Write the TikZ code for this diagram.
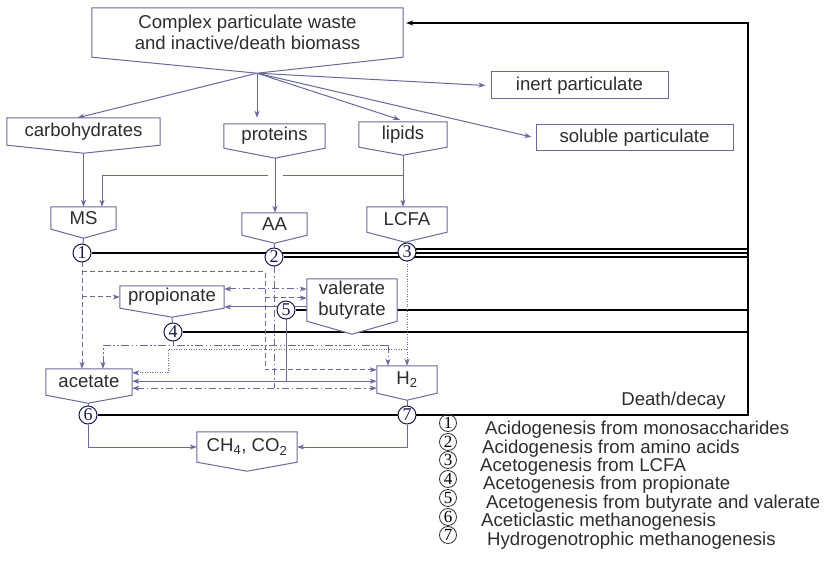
\documentclass[tikz,border=0pt]{standalone}
\usepackage{fontspec}
\setmainfont{Liberation Sans}
\newfontfamily\numfont{Liberation Serif}
\usetikzlibrary{calc,arrows.meta,positioning}
\definecolor{procblue}{RGB}{105,105,155}
\definecolor{numblue}{RGB}{25,25,75}
\definecolor{txtgray}{RGB}{45,45,45}
\pgfdeclarelayer{bg}
\pgfdeclarelayer{mid}
\pgfsetlayers{bg,mid,main}

% box outline with a pointed bottom: name, tip shift, tip depth
\newcommand\tagoutline[3]{%
  \coordinate (#1-tip) at ($(#1.south)+(#2,#3)$);
  \begin{pgfonlayer}{mid}
    \draw[outline] (#1.north west) -- (#1.north east) -- (#1.south east)
      -- (#1-tip) -- (#1.south west) -- cycle;
  \end{pgfonlayer}}

\begin{document}
\begin{tikzpicture}[x=1pt, y=-1pt,
  every node/.style={font=\fontsize{18.6}{21.5}\selectfont, text=txtgray},
  tag/.style={inner sep=0pt, align=center},
  outline/.style={draw=procblue, line width=1pt, fill=white},
  num/.style={circle, draw=numblue, line width=1pt, fill=white, minimum size=18pt,
    inner sep=0pt, font=\numfont\fontsize{18}{18}\selectfont, text=numblue},
  key/.style={circle, draw=black!80, line width=0.8pt, minimum size=17pt,
    inner sep=0pt, font=\numfont\fontsize{17}{17}\selectfont, text=black},
  onehead/.style={-{Stealth[length=7pt,width=5pt,inset=2pt]}},
  twoheads/.style={{Stealth[length=7pt,width=5pt,inset=2pt]}-{Stealth[length=7pt,width=5pt,inset=2pt]}},
  link/.style={draw=procblue, line width=1pt},
  proc/.style={link, onehead},
  decay/.style={draw=black, line width=1.3pt},
  mspath/.style={link, dash pattern=on 5pt off 3pt},
  aapath/.style={link, dash pattern=on 7pt off 3pt on 1.5pt off 3pt},
  propath/.style={link, dash pattern=on 8pt off 2.5pt on 1.5pt off 2.5pt on 1.5pt off 2.5pt},
  lcfapath/.style={link, dash pattern=on 1pt off 1.5pt}]
  \useasboundingbox (0,0) rectangle (828,580);

  % boxes
  \node[tag, minimum width=311pt, minimum height=49pt] (waste) at (247.5,32.5)
    {Complex particulate waste\\and inactive/death biomass};
  \node[tag, minimum width=153pt, minimum height=27pt] (carb) at (83.5,131.5) {carbohydrates};
  \node[tag, minimum width=101pt, minimum height=24pt] (prot) at (274.5,136) {proteins};
  \node[tag, minimum width=88pt, minimum height=25pt] (lip) at (403,134.5) {lipids};
  \node[tag, draw=procblue, line width=1pt, minimum width=177pt, minimum height=27pt] (inert) at (579.5,85.5) {inert particulate};
  \node[tag, draw=procblue, line width=1pt, minimum width=197pt, minimum height=26pt] (sol) at (634.5,138) {soluble particulate};
  \node[tag, minimum width=65pt, minimum height=22pt] (ms) at (83.5,218) {MS};
  \node[tag, minimum width=65pt, minimum height=22pt] (aa) at (274.5,224) {AA};
  \node[tag, minimum width=80pt, minimum height=25pt] (lcfa) at (407,219.5) {LCFA};
  \node[tag, minimum width=104pt, minimum height=22pt] (prop) at (172,297) {propionate};
  \node[tag, minimum width=90pt, minimum height=42pt] (val) at (352,300) {valerate\\butyrate};
  \node[tag, minimum width=86pt, minimum height=26pt] (acet) at (89,382) {acetate};
  \node[tag, minimum width=60pt, minimum height=27pt] (h2) at (407,379.5) {H\textsubscript{2}};
  \node[tag, minimum width=100pt, minimum height=30pt] (ch4) at (247,447) {CH\textsubscript{4}, CO\textsubscript{2}};

  \tagoutline{waste}{9.5}{16}
  \tagoutline{carb}{0}{8}
  \tagoutline{prot}{0.5}{10}
  \tagoutline{lip}{0}{8}
  \tagoutline{ms}{0}{9}
  \tagoutline{aa}{0}{8}
  \tagoutline{lcfa}{-2}{10}
  \tagoutline{prop}{0}{9}
  \tagoutline{val}{0}{13}
  \tagoutline{acet}{-1}{8}
  \tagoutline{h2}{0}{7}
  \tagoutline{ch4}{0}{9}

  % process circles
  \node[num] (c1) at (82,253) {1};
  \node[num] (c2) at (274,257) {2};
  \node[num] (c3) at (407,252) {3};
  \node[num] (c4) at (173,332) {4};
  \node[num] (c5) at (286,310) {5};
  \node[num] (c6) at (88,415) {6};
  \node[num] (c7) at (407,415) {7};
  \coordinate (ft) at (748,23);

  \begin{pgfonlayer}{bg}
    % death/decay back to the top box
    \draw[decay] (c1) -- (c1 -| ft);
    \draw[decay] (c2) -- (c2 -| ft);
    \draw[decay] ($(c3)+(0,-3)$) -- ($(c3 -| ft)+(0,-3)$);
    \draw[decay] (c4) -- (c4 -| ft);
    \draw[decay] (c5) -- (c5 -| ft);
    \draw[decay, -{Stealth[length=7pt,width=5pt]}] (c6) -- (c6 -| ft) -- (ft)
      -- ($(waste.east |- ft)+(3,0)$);

    % disintegration
    \draw[proc] (waste-tip) -- ($(carb.north)+(-6,0)$);
    \draw[proc] (waste-tip) -- ($(waste-tip |- prot.north)+(0,-6)$);
    \draw[proc] (waste-tip) -- ($(lip.north)+(-3,-2)$);
    \draw[proc] (waste-tip) -- ($(inert.west)+(-5,0)$);
    \draw[proc] (waste-tip) -- ($(sol.west)+(-4,-1)$);

    % hydrolysis
    \draw[proc] (carb-tip) -- (carb-tip |- ms.north);
    \draw[proc] (prot-tip) -- (prot-tip |- aa.north);
    \draw[proc] (lip-tip) -- (lip-tip |- lcfa.north);
    \coordinate (lipbend) at ($(lip-tip)+(0,20)$);
    \coordinate (msin) at ($(ms.north)+(18.5,0)$);
    \draw[link] (lipbend) -- ($(prot-tip |- lipbend)+(8,0)$);
    \draw[proc] ($(prot-tip |- lipbend)+(-7,0)$) -- (msin |- lipbend) -- (msin);

    % boxes to circles
    \draw[link] (ms-tip) -- (c1);
    \draw[link] (aa-tip) -- (c2);
    \draw[link] (lcfa-tip) -- (c3);
    \draw[link] (prop-tip) -- (c4);
    \draw[link] (acet-tip) -- (c6);
    \draw[link] (h2-tip) -- (c7);

    % 1: from MS
    \coordinate (msd) at ($(c1)+(0,19)$);
    \coordinate (msv) at ($(c2)+(-9,0)$);
    \coordinate (h2ms) at ($(h2.north west)+(0,4)$);
    \coordinate (valms) at ($(val.west)+(0,-2)$);
    \draw[mspath, onehead] (c1) -- (c1 |- acet.north);
    \draw[mspath, onehead] (msd) -| (msv |- h2ms) -- (h2ms);
    \draw[mspath, onehead] (c1 |- prop.west) -- (prop.west);
    \draw[mspath, onehead] (msv |- valms) -- (valms);

    % 2: from AA
    \coordinate (acetaa) at ($(acet.south east)+(0,-7)$);
    \coordinate (propaa) at ($(prop.east)+(0,-8)$);
    \draw[aapath] (c2) -- (c2 |- acetaa);
    \draw[aapath, twoheads] (acetaa) -- (acetaa -| h2.west);
    \draw[aapath, twoheads] (propaa) -- (propaa -| val.west);

    % 3: from LCFA
    \coordinate (lcrow) at ($(c3)+(0,97)$);
    \coordinate (lcdown) at ($(c4)+(-5,0)$);
    \coordinate (acetlc) at ($(acet.north east)+(0,4)$);
    \draw[lcfapath, onehead] (c3) -- (c3 |- h2.north);
    \draw[lcfapath, onehead] (c3 |- lcrow) -- (lcdown |- lcrow) -- (lcdown |- acetlc) -- (acetlc);

    % 4: from propionate
    \coordinate (prorow) at ($(c4)+(0,13)$);
    \coordinate (acetpro) at ($(acet.north)+(14,0)$);
    \coordinate (h2pro) at ($(h2.north)+(-19,0)$);
    \draw[propath] (c4) -- (prorow);
    \draw[propath, onehead] (h2pro |- prorow) -- (acetpro |- prorow) -- (acetpro);
    \draw[propath, onehead] (h2pro |- prorow) -- (h2pro);

    % 5: from valerate and butyrate
    \coordinate (propval) at ($(prop.east)+(0,10)$);
    \coordinate (acetval) at ($(acet.south east)+(0,-14)$);
    \draw[proc] (propval -| val.west) -- (propval);
    \draw[link] (c5) -- (c5 |- acetval);
    \draw[link, twoheads] (acetval) -- (acetval -| h2.west);

    % 6, 7: methanogenesis
    \draw[proc] (c6) |- (ch4.west);
    \draw[proc] (c7) |- (ch4.east);
  \end{pgfonlayer}

  \node[anchor=east, inner sep=0pt] (death) at (726,401) {Death/decay};

  % legend
  \node[key] (k1) at (448,423) {1};
  \node[anchor=west, inner sep=0pt] (t1) at (485,430) {Acidogenesis from monosaccharides};
  \node[key] (k2) at (448,442) {2};
  \node[anchor=west, inner sep=0pt] (t2) at (482,449) {Acidogenesis from amino acids};
  \node[key] (k3) at (448,460) {3};
  \node[anchor=west, inner sep=0pt] (t3) at (480,467) {Acetogenesis from LCFA};
  \node[key] (k4) at (448,479) {4};
  \node[anchor=west, inner sep=0pt] (t4) at (483,485) {Acetogenesis from propionate};
  \node[key] (k5) at (448,498) {5};
  \node[anchor=west, inner sep=0pt] (t5) at (486,504) {Acetogenesis from butyrate and valerate};
  \node[key] (k6) at (448,517) {6};
  \node[anchor=west, inner sep=0pt] (t6) at (481,522) {Aceticlastic methanogenesis};
  \node[key] (k7) at (448,535) {7};
  \node[anchor=west, inner sep=0pt] (t7) at (487,541) {Hydrogenotrophic methanogenesis};
\end{tikzpicture}
\end{document}
